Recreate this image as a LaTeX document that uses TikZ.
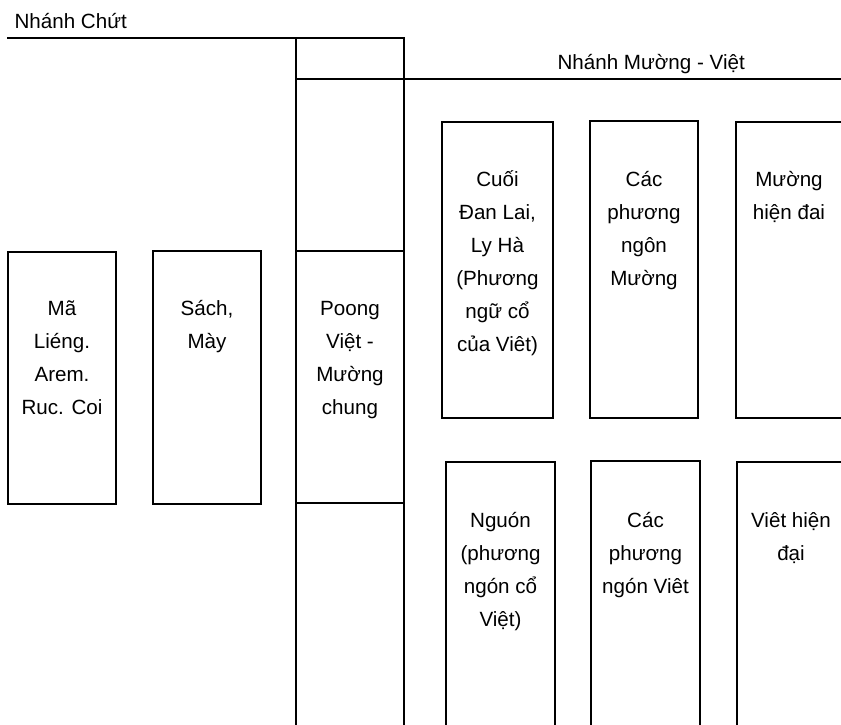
\documentclass[tikz,border=0pt]{standalone}
\usepackage{fontspec}
\setmainfont{Liberation Sans}
\usetikzlibrary{calc}
\begin{document}
\begin{tikzpicture}[x=1pt,y=-1pt,line width=1.1pt,
  boxst/.style={draw,rectangle,anchor=north west,inner sep=0pt,outer sep=0pt},
  lbl/.style={anchor=north,align=center,inner sep=0pt,font=\fontsize{20.6}{33}\selectfont},
  ttl/.style={anchor=base west,inner sep=0pt,font=\fontsize{20.6}{24}\selectfont}]
\useasboundingbox (0,0) rectangle (841,725);
\clip (0,0) rectangle (841,725);
% titles
\node[ttl] (chut) at (14,29) {Nhánh Chứt};
\node[ttl] (mv) at (557,70) {Nhánh Mường - Việt};
% boxes
\node[boxst,minimum width=108pt,minimum height=252pt] (ma) at (8,252) {};
\node[boxst,minimum width=108pt,minimum height=253pt] (sach) at (153,251) {};
\node[boxst,minimum width=108pt,minimum height=700pt] (col) at (296,38) {};
\node[boxst,minimum width=111pt,minimum height=296pt] (r1) at (442,122) {};
\node[boxst,minimum width=108pt,minimum height=297pt] (r2) at (590,121) {};
\node[boxst,minimum width=110pt,minimum height=296pt] (r3) at (736,122) {};
\node[boxst,minimum width=109pt,minimum height=280pt] (s1) at (446,462) {};
\node[boxst,minimum width=109pt,minimum height=280pt] (s2) at (591,461) {};
\node[boxst,minimum width=110pt,minimum height=280pt] (s3) at (737,462) {};
% lines
\coordinate (tl) at (7,38);
\coordinate (rend) at (845,79);
\coordinate (div1) at (0,251);
\coordinate (div2) at (0,503);
\draw (tl) -- (col.north west);
\draw (col.west |- rend) -- (rend);
\draw (col.west |- div1) -- (col.east |- div1);
\draw (col.west |- div2) -- (col.east |- div2);
% labels
\node[lbl] (tma) at ($(ma.north)+(0,40)$) {\strut Mã\\Liéng.\\Arem.\\Ruc. Coi};
\node[lbl] (tsach) at ($(sach.north)+(0,41)$) {\strut Sách,\\Mày};
\node[lbl] (tpoong) at ($(col.north |- div1)+(0,41)$) {\strut Poong\\Việt -\\Mường\\chung};
\node[lbl] (tr1) at ($(r1.north)+(0,41)$) {\strut Cuối\\Đan Lai,\\Ly Hà\\(Phương\\ngữ cổ\\của Viêt)};
\node[lbl] (tr2) at ($(r2.north)+(0,42)$) {\strut Các\\phương\\ngôn\\Mường};
\node[lbl] (tr3) at ($(r3.north west)+(53,41)$) {\strut Mường\\hiện đai};
\node[lbl] (ts1) at ($(s1.north)+(0,42)$) {\strut Nguón\\(phương\\ngón cổ\\Việt)};
\node[lbl] (ts2) at ($(s2.north)+(0,43)$) {\strut Các\\phương\\ngón Viêt};
\node[lbl] (ts3) at ($(s3.north west)+(54,42)$) {\strut Viêt hiện\\đại};
\end{tikzpicture}
\end{document}
